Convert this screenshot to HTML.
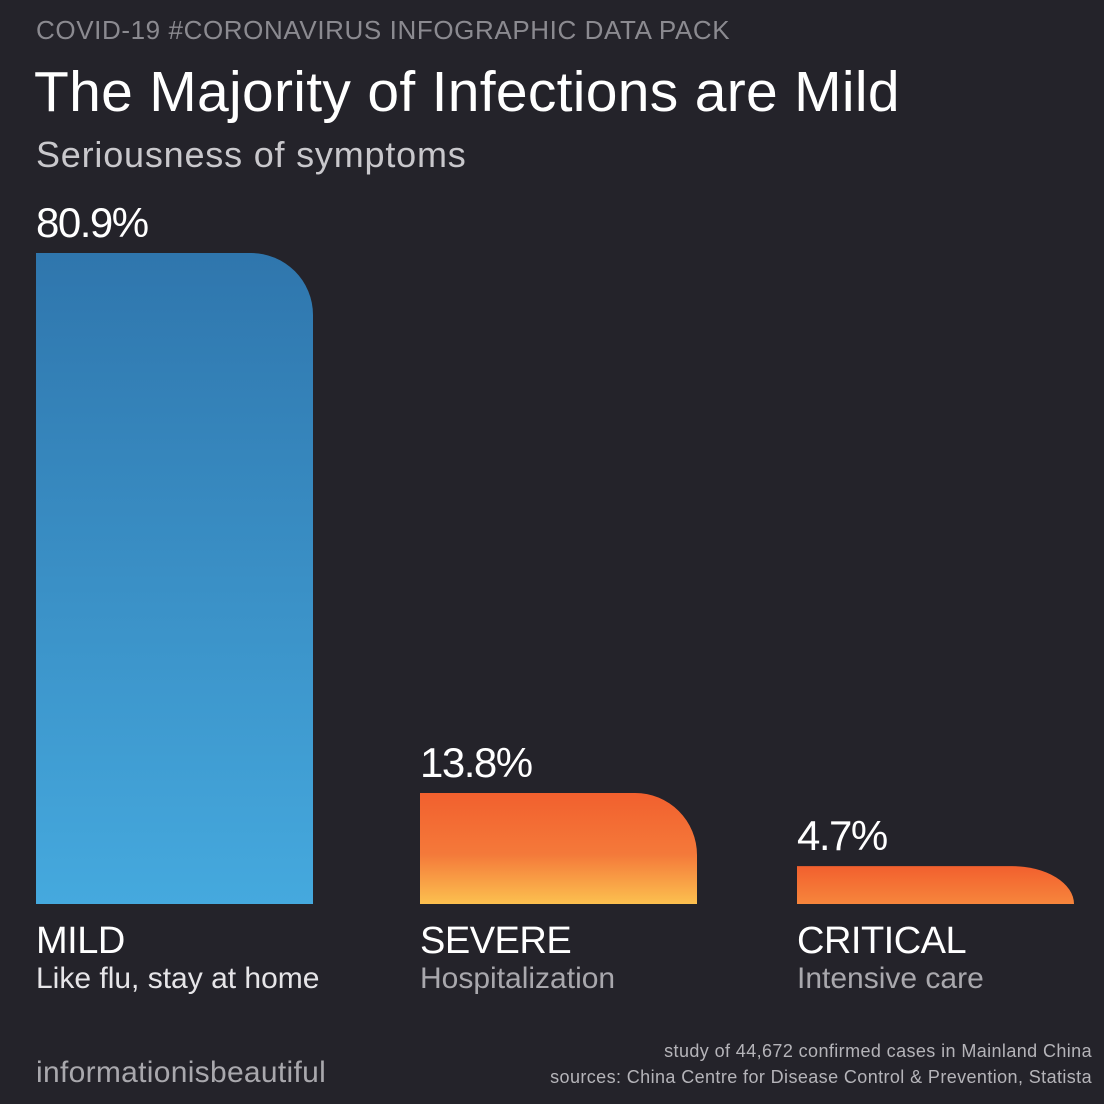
<!DOCTYPE html>
<html><head><meta charset="utf-8"><style>
html,body{margin:0;padding:0;background:#24232a;}
body{width:1104px;height:1104px;overflow:hidden;font-family:"Liberation Sans",sans-serif;}
svg{display:block}
</style></head><body>
<svg id="chart" width="1104" height="1104" viewBox="0 0 1104 1104">
<defs>
<linearGradient id="gBlue" x1="0" y1="0" x2="0" y2="1"><stop offset="0" stop-color="#2f76ad"/><stop offset="1" stop-color="#45a9de"/></linearGradient>
<linearGradient id="gOrange" x1="0" y1="0" x2="0" y2="1"><stop offset="0" stop-color="#f2602e"/><stop offset="0.55" stop-color="#f4793a"/><stop offset="1" stop-color="#fcc04f"/></linearGradient>
<linearGradient id="gOrange2" x1="0" y1="0" x2="0" y2="1"><stop offset="0" stop-color="#f2602e"/><stop offset="1" stop-color="#f6853c"/></linearGradient>
</defs>
<rect width="1104" height="1104" fill="#24232a"/>
<text x="36" y="39" font-size="26" fill="#8b8a90" letter-spacing="0.6">COVID-19 #CORONAVIRUS INFOGRAPHIC DATA PACK</text>
<text x="34" y="111" font-size="57" fill="#ffffff" letter-spacing="0.3">The Majority of Infections are Mild</text>
<text x="36" y="167" font-size="36" fill="#c9c8cc" letter-spacing="0.8">Seriousness of symptoms</text>
<g id="bars"></g>
<text x="36" y="1082" font-size="30" fill="#a9a8ad" letter-spacing="0.3">informationisbeautiful</text>
<text x="1092" y="1057" font-size="18" fill="#b5b4b9" text-anchor="end" letter-spacing="0.4">study of 44,672 confirmed cases in Mainland China</text>
<text x="1092" y="1083" font-size="18" fill="#b5b4b9" text-anchor="end" letter-spacing="0.4">sources: China Centre for Disease Control &amp; Prevention, Statista</text>
</svg>
<script>
const categories = ["MILD", "SEVERE", "CRITICAL"];
const values = [80.9, 13.8, 4.7];
const valueLabels = ["80.9%", "13.8%", "4.7%"];
const subLabels = ["Like flu, stay at home", "Hospitalization", "Intensive care"];

const NS = "http://www.w3.org/2000/svg";
const baseY = 904, pxPerPct = 651 / 80.9;
const barX = i => [36, 420, 797][i];
const barW = 277;
const yScale = v => baseY - v * pxPerPct;
const fills = ["url(#gBlue)", "url(#gOrange)", "url(#gOrange2)"];
const subColors = ["#e6e5e8", "#a9a8ad", "#a9a8ad"];
const g = document.getElementById("bars");
function mk(tag, attrs) { const e = document.createElementNS(NS, tag); for (const k in attrs) e.setAttribute(k, attrs[k]); g.appendChild(e); return e; }
values.forEach((v, i) => {
  const x = barX(i), top = yScale(v), h = baseY - top;
  const rx = 62, ry = Math.min(62, h);
  const p = mk("path", { d: `M${x},${baseY} L${x},${top} L${x + barW - rx},${top} A${rx},${ry} 0 0 1 ${x + barW},${top + ry} L${x + barW},${baseY} Z`, fill: fills[i] });
  
  
  const vl = mk("text", { x: x, y: top - 16, "font-size": 42, fill: "#ffffff", "letter-spacing": "-1.5" });
  vl.textContent = valueLabels[i];
  
  
  const cl = mk("text", { x: x, y: 953, "font-size": 38, fill: "#ffffff", "letter-spacing": "-0.5" });
  cl.textContent = categories[i];
  
  
  const sl = mk("text", { x: x, y: 988, "font-size": 30, fill: subColors[i], "letter-spacing": "0" });
  sl.textContent = subLabels[i];
  
  
});
</script>
</body></html>
